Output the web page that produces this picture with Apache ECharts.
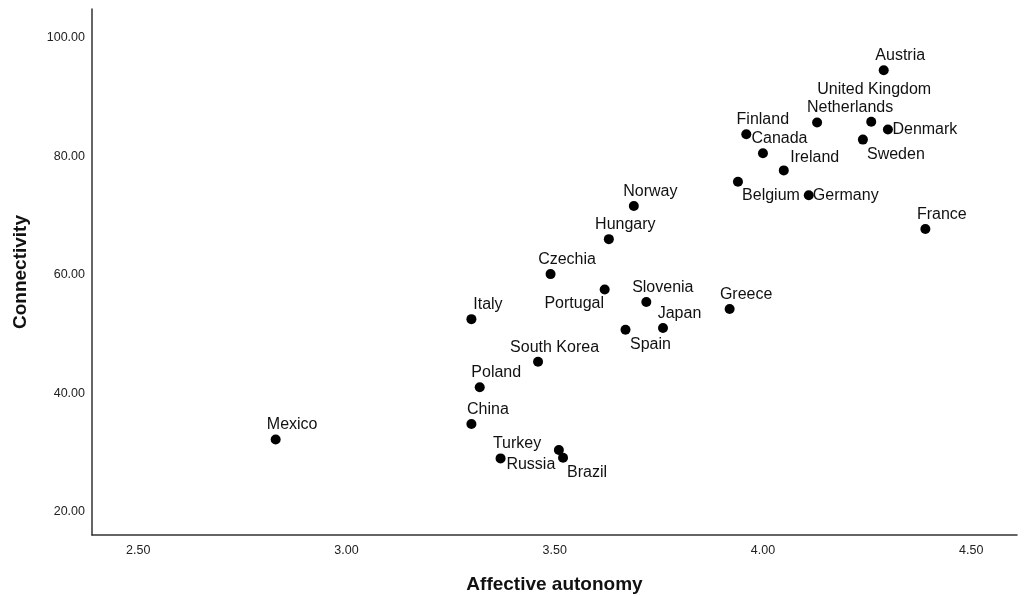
<!DOCTYPE html>
<html>
<head>
<meta charset="utf-8">
<script src="https://cdn.jsdelivr.net/npm/echarts@6/dist/echarts.min.js"></script>
<style>
  html, body { margin: 0; padding: 0; background: #fff; }
  #chart { width: 1024px; height: 596px; }
</style>
</head>
<body>
<div id="chart"></div>
<script>
// Country values: affective autonomy (x) against connectivity (y)
const countries = [
  'Austria', 'United Kingdom', 'Netherlands', 'Denmark', 'Sweden', 'Finland',
  'Canada', 'Ireland', 'Belgium', 'Germany', 'France', 'Norway', 'Hungary',
  'Czechia', 'Portugal', 'Slovenia', 'Greece', 'Italy', 'Japan', 'Spain',
  'South Korea', 'Poland', 'China', 'Mexico', 'Turkey', 'Russia', 'Brazil'
];
const affectiveAutonomy = [
  4.29, 4.26, 4.13, 4.30, 4.24, 3.96,
  4.00, 4.05, 3.94, 4.11, 4.39, 3.69, 3.63,
  3.49, 3.62, 3.72, 3.92, 3.30, 3.76, 3.67,
  3.46, 3.32, 3.30, 2.83, 3.37, 3.51, 3.52
];
const connectivity = [
  94.5, 85.8, 85.7, 84.5, 82.8, 83.7,
  80.5, 77.6, 75.7, 73.4, 67.7, 71.6, 66.0,
  60.1, 57.5, 55.4, 54.2, 52.5, 51.0, 50.7,
  45.3, 41.0, 34.8, 32.2, 29.0, 30.4, 29.1
];
const xTicks = [2.5, 3.0, 3.5, 4.0, 4.5];
const yTicks = [20, 40, 60, 80, 100];

// Label placement (pixel shift of the label centre from its point)
const ABOVE = [16.5, -14.5];
const labelShift = {
  'United Kingdom': [3, -32.5],
  'Netherlands': [33, -14.5],
  'Denmark': [37, 0.5],
  'Sweden': [33, 14.5],
  'Ireland': [31, -12.5],
  'Belgium': [33, 13.5],
  'Germany': [37, 0.5],
  'Portugal': [-30.5, 14.5],
  'Spain': [25, 14.5],
  'Russia': [-28, 14.5],
  'Brazil': [24, 14.5]
};

const points = countries.map((name, i) => ({
  name: name,
  value: [affectiveAutonomy[i], connectivity[i]]
}));

const chart = echarts.init(document.getElementById('chart'), null, { renderer: 'canvas' });
const fontFamily = '"Liberation Sans", Arial, Helvetica, sans-serif';

chart.setOption({
  animation: false,
  backgroundColor: '#ffffff',
  grid: { left: 92, right: 7, top: 9, bottom: 61, outerBoundsMode: 'none' },
  xAxis: {
    type: 'value',
    min: 2.389,
    max: 4.61,
    name: 'Affective autonomy',
    nameLocation: 'middle',
    nameGap: 40,
    nameTextStyle: { fontFamily: fontFamily, fontSize: 19, fontWeight: 'bold', color: '#111' },
    axisLine: { show: true, lineStyle: { color: '#333', width: 1.5 } },
    axisTick: { show: false },
    splitLine: { show: false },
    axisLabel: {
      customValues: xTicks,
      formatter: v => v.toFixed(2),
      margin: 9,
      fontFamily: fontFamily,
      fontSize: 12.5,
      color: '#222'
    }
  },
  yAxis: {
    type: 'value',
    min: 16.07,
    max: 104.84,
    name: 'Connectivity',
    nameLocation: 'middle',
    nameGap: 62,
    nameRotate: 90,
    nameTextStyle: { fontFamily: fontFamily, fontSize: 19, fontWeight: 'bold', color: '#111' },
    axisLine: { show: true, lineStyle: { color: '#333', width: 1.5 } },
    axisTick: { show: false },
    splitLine: { show: false },
    axisLabel: {
      customValues: yTicks,
      formatter: v => v.toFixed(2),
      margin: 7,
      fontFamily: fontFamily,
      fontSize: 12.5,
      color: '#222'
    }
  },
  series: [{
    type: 'scatter',
    symbol: 'circle',
    symbolSize: 10,
    itemStyle: { color: '#000', opacity: 1 },
    label: {
      show: true,
      position: 'inside',
      align: 'center',
      verticalAlign: 'middle',
      formatter: p => p.name,
      fontFamily: fontFamily,
      fontSize: 16,
      color: '#111',
      textBorderWidth: 0
    },
    labelLayout: params => {
      const s = labelShift[countries[params.dataIndex]] || ABOVE;
      return { dx: s[0], dy: s[1], hideOverlap: false };
    },
    emphasis: { disabled: true },
    data: points
  }]
});
</script>
</body>
</html>
